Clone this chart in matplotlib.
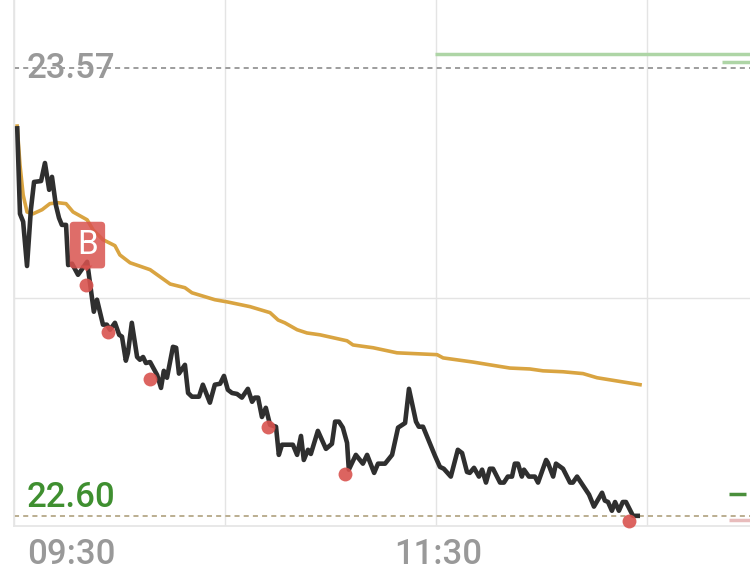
import matplotlib
matplotlib.use('Agg')
import matplotlib.pyplot as plt
from matplotlib.transforms import ScaledTranslation

plt.rcParams['font.family'] = ['Roboto', 'DejaVu Sans']

# minutes since 09:30, price
price_t = [0.9, 1.7, 2.6, 3.7, 4.8, 5.7, 7.7, 8.8, 10.0, 10.8, 11.9, 12.8, 13.6, 14.8, 15.4, 16.5, 18.2, 20.8,
           22.7, 23.6, 25.3, 26.4, 27.3, 28.7, 29.9, 30.7, 31.8, 32.4, 33.5, 35.0, 35.8, 36.7, 37.5, 38.7, 40.7,
           41.8, 42.6, 43.5, 45.2, 46.1, 46.9, 48.6, 49.5, 50.6, 52.6, 53.7, 55.7, 57.1, 58.6, 59.7, 60.8, 62.0,
           63.4, 64.8, 66.5, 67.7, 68.5, 69.4, 70.5, 71.6, 72.8, 74.5, 75.3, 76.2, 79.3, 80.5, 81.6, 82.4, 83.6,
           84.4, 86.4, 88.7, 90.4, 91.3, 92.4, 93.5, 94.7, 95.2, 97.2, 99.2, 100.4, 102.4, 103.5, 105.5, 107.5,
           109.2, 111.2, 112.3, 114.3, 115.1, 116.3, 119.7, 121.1, 122.2, 124.2, 126.2, 127.4, 128.8, 129.6, 130.8,
           132.2, 133.1, 134.2, 135.3, 136.2, 138.2, 139.3, 140.4, 141.6, 142.4, 143.3, 144.4, 145.0, 146.4, 148.1,
           149.0, 151.3, 151.8, 153.3, 154.1, 156.1, 158.1, 158.9, 160.1, 163.5, 164.9, 167.2, 168.0, 168.9, 170.0,
           170.9, 172.0, 173.1, 174.0, 176.0, 178.0]
price = [23.445, 23.255, 23.238, 23.142, 23.264, 23.324, 23.326, 23.365, 23.307, 23.335, 23.274, 23.246, 23.231,
         23.231, 23.144, 23.147, 23.123, 23.151, 23.043, 23.069, 23.015, 23.015, 23.004, 23.019, 22.993, 22.989,
         22.937, 22.954, 23.019, 22.945, 22.939, 22.945, 22.932, 22.934, 22.906, 22.878, 22.915, 22.900, 22.967,
         22.965, 22.909, 22.928, 22.867, 22.859, 22.859, 22.885, 22.846, 22.885, 22.887, 22.904, 22.874, 22.867,
         22.865, 22.857, 22.876, 22.848, 22.857, 22.857, 22.815, 22.835, 22.798, 22.794, 22.733, 22.755, 22.755,
         22.733, 22.774, 22.722, 22.744, 22.735, 22.785, 22.746, 22.757, 22.805, 22.805, 22.792, 22.759, 22.701,
         22.733, 22.714, 22.733, 22.694, 22.714, 22.714, 22.733, 22.792, 22.802, 22.876, 22.805, 22.794, 22.794,
         22.731, 22.707, 22.703, 22.686, 22.744, 22.737, 22.696, 22.694, 22.705, 22.686, 22.701, 22.673, 22.703,
         22.703, 22.673, 22.673, 22.686, 22.686, 22.714, 22.714, 22.686, 22.701, 22.686, 22.686, 22.673, 22.722,
         22.716, 22.686, 22.714, 22.703, 22.673, 22.673, 22.686, 22.647, 22.621, 22.651, 22.634, 22.631, 22.612,
         22.631, 22.612, 22.631, 22.631, 22.601, 22.601]

avg_t = [0.9, 1.7, 2.6, 3.7, 5.4, 8.0, 10.2, 12.5, 14.8, 16.8, 20.8, 22.5, 25.3, 28.7, 30.1, 33.0, 38.7, 44.4, 48.6,
         50.6, 57.1, 60.8, 67.1, 72.8, 75.1, 77.0, 80.5, 83.3, 87.0, 94.7, 96.4, 102.1, 108.9, 120.3, 122.0, 130.5,
         135.3, 141.0, 146.7, 150.4, 156.1, 161.8, 165.8, 173.1, 178.0]
avg = [23.445, 23.361, 23.296, 23.259, 23.255, 23.264, 23.277, 23.279, 23.277, 23.259, 23.242, 23.220, 23.199,
       23.186, 23.166, 23.149, 23.134, 23.103, 23.095, 23.084, 23.069, 23.064, 23.054, 23.041, 23.025, 23.019,
       23.004, 22.997, 22.993, 22.980, 22.971, 22.965, 22.954, 22.950, 22.943, 22.934, 22.928, 22.921, 22.919,
       22.915, 22.913, 22.909, 22.900, 22.891, 22.885]

dot_t = [20.5, 26.7, 38.7, 72.2, 94.1, 174.9]
dot_price = [23.101, 22.999, 22.898, 22.794, 22.692, 22.590]

buy_t = 20.6
buy_price = 23.144

high = 23.57
low = 22.60
mid_grid = 23.073

xticks = [0, 60, 120, 180]
xlabels = ['09:30', '', '11:30', '']

# side levels (start, end, price)
green_long = (119.7, 209.3, 23.602)
green_short = (201.3, 209.3, 23.584)
green_dark = (203.3, 208.1, 22.649)
pink = (203.3, 209.3, 22.592)

W, H = 750, 577
fig = plt.figure(figsize=(W / 100, H / 100), dpi=100)
ax = fig.add_axes([14 / W, (H - 526) / H, (W - 14) / W, 526 / H])
ax.set_xlim(0, 209.27)
ax.set_ylim(22.579, 23.718)

for s in ['top', 'right']:
    ax.spines[s].set_visible(False)
for s in ['left', 'bottom']:
    ax.spines[s].set_color('#e6e6e6')
    ax.spines[s].set_linewidth(1.3)

ax.set_xticks(xticks)
ax.set_xticklabels(xlabels, fontsize=25, color='#999999', fontweight='medium')
ax.set_yticks([mid_grid])
ax.set_yticklabels([])
ax.tick_params(length=0, pad=9)
ax.grid(True, color='#e4e4e4', linewidth=1.0)
ax.set_axisbelow(True)

# 09:30 sits to the right of its gridline
labs = ax.get_xticklabels()
labs[0].set_horizontalalignment('left')
labs[0].set_transform(labs[0].get_transform() + ScaledTranslation(13 / 100, 0, fig.dpi_scale_trans))
labs[2].set_transform(labs[2].get_transform() + ScaledTranslation(2 / 100, 0, fig.dpi_scale_trans))

dash = (0, (2.7, 2.2))
ax.axhline(high, color='#999999', lw=1.35, ls=dash, zorder=2)
ax.axhline(low, color='#b8ab8c', lw=1.35, ls=dash, zorder=2)

for seg, c in [(green_long, '#aed5a6'), (green_short, '#aed5a6'), (green_dark, '#4a8f3c'), (pink, '#e8bcbc')]:
    ax.plot(seg[:2], [seg[2], seg[2]], color=c, lw=2.5, solid_capstyle='butt', zorder=3)

ax.plot(avg_t, avg, color='#d9a441', lw=2.6, solid_joinstyle='round', zorder=4)
ax.plot(price_t, price, color='#2f2f2f', lw=3.3, solid_joinstyle='round', solid_capstyle='butt', zorder=5)
ax.plot(dot_t, dot_price, ls='none', marker='o', ms=10, mfc='#d9534f', mec='none', alpha=0.9, zorder=6, clip_on=False)

# B flag
ax.plot([buy_t], [buy_price], ls='none', marker=[(-1, 0), (1, 0), (0, -1)], ms=8.6,
        mfc='#d9534f', mec='none', alpha=0.85, zorder=7)
ax.annotate('B', xy=(buy_t, buy_price), xytext=(0.7, 14.4), textcoords='offset points',
            ha='center', va='center', fontsize=24, color='white', zorder=8,
            bbox=dict(boxstyle='round,pad=0.22,rounding_size=0.12', fc='#d9534f', ec='none', alpha=0.85))

ax.text(3.7, 23.549, '%.2f' % high, fontsize=25, color='#999999', ha='left', va='baseline', zorder=3,
        fontweight='medium')
ax.text(3.7, 22.621, '%.2f' % low, fontsize=25, color='#3f8f30', ha='left', va='baseline', zorder=3,
        fontweight='medium')

fig.savefig('out.png', dpi=100)
